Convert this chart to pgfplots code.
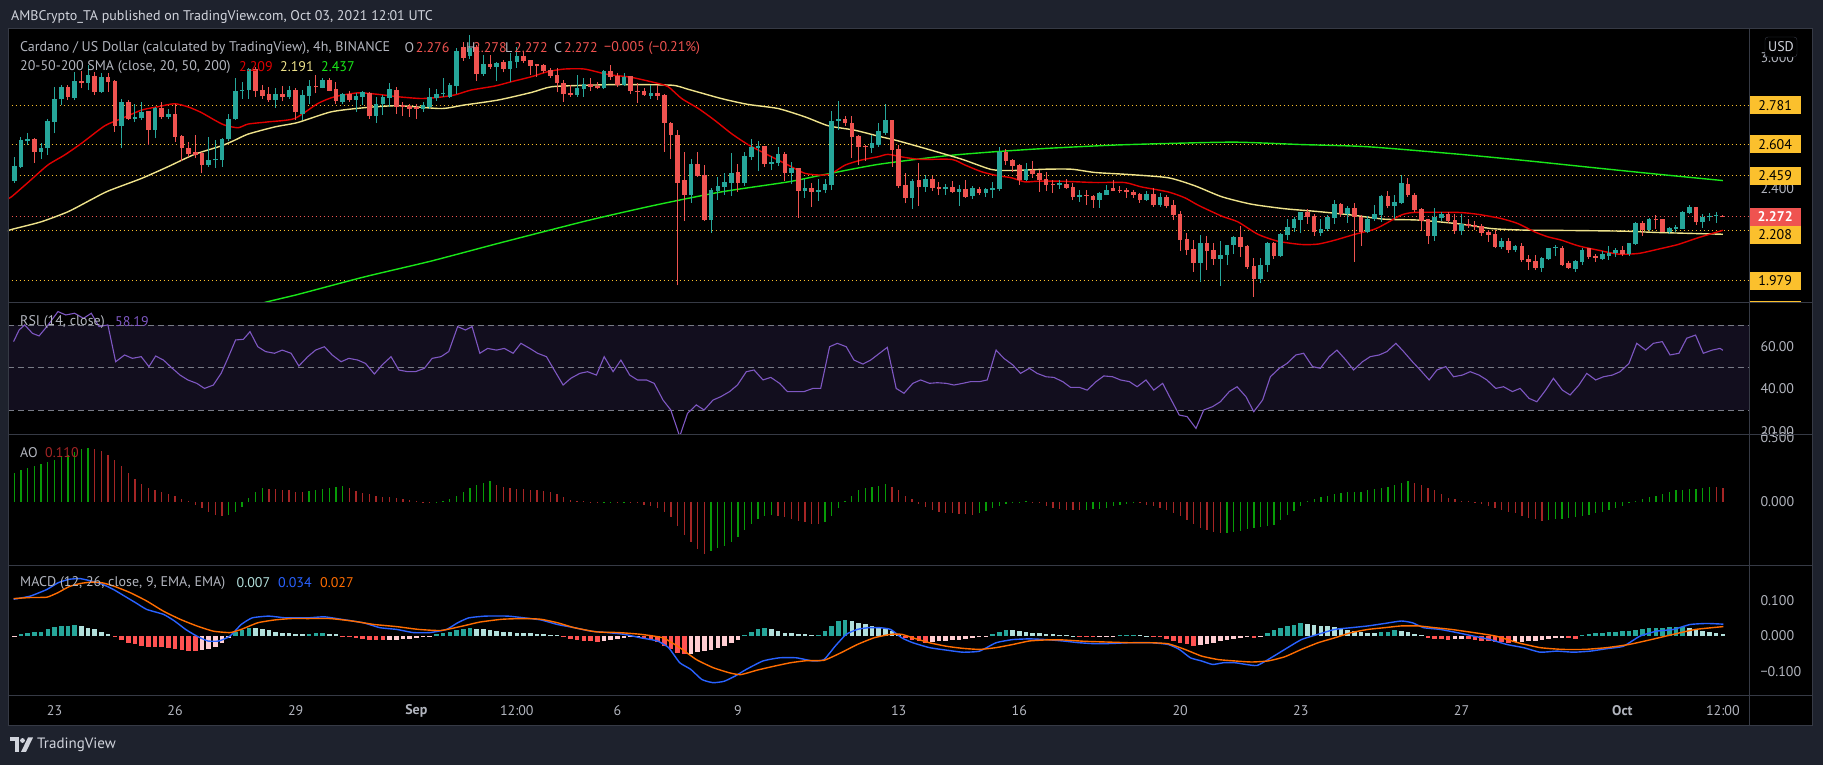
\documentclass[border=0pt]{standalone}
\usepackage{pgfplots}
\pgfplotsset{compat=1.18}
\usepackage{pgfplotstable}
\usepackage{fontspec}
\setmainfont{PT Sans}
\definecolor{bgout}{HTML}{1E222D}
\definecolor{sepc}{HTML}{363A45}
\definecolor{axtxt}{HTML}{B2B5BE}
\definecolor{hdtxt}{HTML}{D1D4DC}
\definecolor{tvteal}{HTML}{26A69A}
\definecolor{tvred}{HTML}{EF5350}
\definecolor{lvl}{HTML}{FBC02D}
\definecolor{smaA}{HTML}{E00000}
\definecolor{smaB}{HTML}{EEE28A}
\definecolor{smaC}{HTML}{19E619}
\definecolor{rsic}{HTML}{7E57C2}
\definecolor{rsiband}{HTML}{120E1E}
\definecolor{rsidash}{HTML}{787B86}
\definecolor{macdb}{HTML}{2962FF}
\definecolor{macdo}{HTML}{FF6D00}
\definecolor{hteal}{HTML}{26A69A}
\definecolor{hlt}{HTML}{B2DFDB}
\definecolor{hpink}{HTML}{FFCDD2}
\definecolor{hred}{HTML}{FF5252}
\definecolor{aoG}{HTML}{079B07}
\definecolor{aoR}{HTML}{A52525}
\newcommand\tvf{\fontsize{14}{16}\selectfont}

\pgfplotstableread{
i o h l c
-6 2.435 2.546 2.427 2.504
-5 2.501 2.637 2.493 2.622
-4 2.617 2.657 2.602 2.627
-2 2.568 2.607 2.536 2.584
-1 2.584 2.721 2.554 2.709
0 2.706 2.867 2.653 2.813
1 2.809 2.874 2.783 2.867
3 2.816 2.936 2.806 2.893
5 2.884 2.966 2.852 2.920
7 2.844 2.928 2.839 2.913
10 2.688 2.813 2.584 2.798
12 2.721 2.790 2.706 2.729
13 2.725 2.798 2.714 2.752
15 2.668 2.775 2.630 2.771
17 2.729 2.767 2.721 2.740
23 2.508 2.637 2.501 2.531
24 2.529 2.622 2.496 2.536
25 2.531 2.633 2.501 2.627
26 2.627 2.744 2.617 2.717
27 2.717 2.905 2.714 2.847
28 2.847 2.890 2.813 2.853
29 2.852 2.951 2.813 2.948
33 2.806 2.859 2.771 2.832
35 2.821 2.871 2.813 2.852
37 2.744 2.852 2.714 2.829
38 2.826 2.897 2.790 2.870
40 2.862 2.905 2.859 2.897
43 2.798 2.836 2.786 2.832
45 2.806 2.836 2.752 2.826
46 2.821 2.847 2.783 2.841
48 2.732 2.821 2.702 2.790
49 2.786 2.829 2.737 2.821
50 2.816 2.882 2.775 2.856
55 2.763 2.798 2.752 2.783
56 2.775 2.859 2.767 2.819
57 2.816 2.855 2.803 2.833
58 2.832 2.905 2.821 2.839
59 2.821 2.882 2.816 2.874
60 2.871 3.043 2.833 3.030
62 3.010 3.105 2.995 3.045
64 2.925 3.012 2.917 2.969
66 2.959 2.981 2.893 2.978
68 2.948 3.020 2.890 2.984
69 2.981 3.050 2.954 3.007
78 2.829 2.923 2.821 2.862
79 2.856 2.905 2.821 2.878
82 2.859 2.943 2.856 2.939
85 2.877 2.928 2.871 2.913
89 2.826 2.874 2.810 2.836
95 2.370 2.536 2.335 2.515
98 2.256 2.401 2.198 2.393
99 2.389 2.453 2.347 2.412
100 2.408 2.473 2.373 2.431
101 2.427 2.563 2.366 2.473
103 2.427 2.566 2.413 2.549
104 2.546 2.627 2.531 2.589
105 2.587 2.617 2.480 2.595
107 2.512 2.549 2.485 2.523
108 2.518 2.589 2.505 2.558
110 2.473 2.520 2.421 2.493
112 2.389 2.444 2.358 2.401
114 2.386 2.444 2.344 2.396
115 2.393 2.444 2.378 2.419
116 2.416 2.755 2.393 2.712
117 2.711 2.801 2.668 2.719
122 2.587 2.645 2.564 2.607
123 2.602 2.699 2.592 2.664
124 2.656 2.790 2.648 2.714
128 2.358 2.444 2.306 2.435
130 2.408 2.462 2.386 2.444
133 2.398 2.419 2.373 2.407
135 2.386 2.416 2.321 2.398
137 2.367 2.411 2.352 2.401
139 2.381 2.404 2.363 2.398
140 2.395 2.431 2.358 2.404
141 2.398 2.592 2.390 2.569
145 2.439 2.518 2.434 2.488
150 2.418 2.439 2.398 2.424
153 2.363 2.393 2.340 2.372
156 2.347 2.385 2.312 2.381
157 2.370 2.416 2.370 2.396
163 2.347 2.389 2.344 2.375
165 2.324 2.381 2.317 2.363
171 2.060 2.187 1.973 2.153
174 2.077 2.159 1.955 2.098
175 2.095 2.144 2.049 2.144
176 2.141 2.182 2.100 2.179
180 1.985 2.083 1.968 2.052
181 2.049 2.156 2.019 2.149
183 2.091 2.195 2.086 2.190
184 2.187 2.259 2.164 2.224
185 2.221 2.271 2.202 2.260
186 2.256 2.294 2.198 2.291
189 2.198 2.260 2.182 2.217
190 2.214 2.279 2.205 2.268
191 2.265 2.350 2.240 2.329
193 2.282 2.321 2.243 2.309
196 2.202 2.276 2.195 2.263
197 2.260 2.324 2.253 2.282
198 2.279 2.373 2.248 2.366
200 2.321 2.373 2.260 2.337
201 2.332 2.462 2.329 2.424
206 2.182 2.309 2.161 2.268
207 2.266 2.294 2.253 2.285
210 2.205 2.282 2.187 2.240
216 2.133 2.172 2.123 2.159
218 2.118 2.141 2.110 2.136
222 2.037 2.088 2.019 2.080
223 2.077 2.129 2.072 2.126
224 2.126 2.144 2.091 2.133
227 2.034 2.072 2.019 2.068
228 2.065 2.126 2.049 2.121
231 2.077 2.115 2.074 2.100
232 2.092 2.136 2.074 2.107
233 2.103 2.126 2.088 2.118
235 2.100 2.152 2.091 2.149
236 2.146 2.248 2.144 2.243
238 2.210 2.266 2.207 2.260
241 2.202 2.225 2.191 2.220
242 2.214 2.233 2.202 2.225
243 2.217 2.298 2.214 2.292
244 2.289 2.326 2.284 2.315
246 2.248 2.283 2.219 2.271
247 2.268 2.287 2.252 2.274
248 2.274 2.292 2.243 2.278
}\upc

\pgfplotstableread{
i o h l c
-3 2.627 2.630 2.519 2.568
2 2.867 2.877 2.806 2.821
4 2.893 2.939 2.859 2.882
6 2.916 2.936 2.828 2.844
8 2.913 2.928 2.844 2.890
9 2.893 2.897 2.660 2.688
11 2.798 2.806 2.714 2.721
14 2.755 2.755 2.602 2.668
16 2.771 2.798 2.721 2.728
18 2.740 2.790 2.614 2.637
19 2.640 2.645 2.526 2.584
20 2.584 2.614 2.546 2.561
21 2.568 2.645 2.539 2.554
22 2.564 2.568 2.470 2.508
30 2.948 2.959 2.821 2.847
31 2.852 2.877 2.810 2.826
32 2.832 2.867 2.798 2.806
34 2.835 2.871 2.801 2.821
36 2.852 2.859 2.714 2.749
39 2.870 2.920 2.836 2.864
41 2.897 2.905 2.847 2.848
42 2.856 2.887 2.786 2.803
44 2.833 2.847 2.798 2.806
47 2.839 2.844 2.721 2.732
51 2.852 2.867 2.744 2.775
52 2.783 2.798 2.734 2.775
53 2.780 2.786 2.729 2.767
54 2.775 2.786 2.719 2.764
61 3.050 3.070 2.985 3.000
63 3.050 3.058 2.893 2.925
65 2.969 3.012 2.948 2.959
67 2.981 2.989 2.933 2.948
70 3.007 3.027 2.978 2.984
71 2.989 2.989 2.920 2.963
72 2.969 2.969 2.913 2.963
73 2.966 2.969 2.928 2.939
74 2.943 2.954 2.905 2.917
75 2.920 2.951 2.841 2.882
76 2.882 2.897 2.798 2.832
77 2.836 2.877 2.821 2.829
80 2.878 2.905 2.847 2.867
81 2.871 2.890 2.855 2.859
83 2.939 2.966 2.897 2.913
84 2.917 2.928 2.867 2.874
86 2.916 2.917 2.833 2.849
87 2.849 2.882 2.793 2.844
88 2.847 2.859 2.826 2.829
90 2.836 2.877 2.806 2.824
91 2.829 2.832 2.568 2.702
92 2.703 2.706 2.536 2.645
93 2.645 2.668 1.957 2.427
94 2.439 2.568 2.251 2.370
96 2.515 2.566 2.454 2.459
97 2.462 2.508 2.251 2.256
102 2.474 2.511 2.386 2.427
106 2.595 2.595 2.501 2.512
109 2.561 2.566 2.435 2.473
111 2.493 2.496 2.266 2.390
113 2.401 2.428 2.317 2.386
118 2.717 2.732 2.688 2.699
119 2.699 2.732 2.541 2.637
120 2.640 2.645 2.508 2.592
121 2.596 2.602 2.526 2.589
125 2.714 2.714 2.501 2.577
126 2.581 2.599 2.401 2.413
127 2.416 2.470 2.332 2.358
129 2.439 2.519 2.321 2.408
131 2.444 2.459 2.390 2.404
132 2.407 2.431 2.370 2.398
134 2.407 2.434 2.378 2.386
136 2.398 2.439 2.358 2.363
138 2.398 2.408 2.373 2.381
142 2.569 2.581 2.508 2.528
143 2.531 2.535 2.474 2.505
144 2.508 2.515 2.416 2.439
146 2.485 2.526 2.451 2.467
147 2.473 2.485 2.386 2.439
148 2.442 2.474 2.389 2.416
149 2.422 2.439 2.381 2.416
151 2.422 2.444 2.398 2.404
152 2.407 2.424 2.347 2.363
154 2.372 2.393 2.327 2.367
155 2.367 2.373 2.312 2.347
158 2.404 2.439 2.388 2.389
159 2.395 2.411 2.381 2.389
160 2.393 2.404 2.358 2.386
161 2.386 2.393 2.355 2.373
162 2.375 2.378 2.335 2.347
164 2.375 2.404 2.317 2.324
166 2.363 2.370 2.309 2.320
167 2.324 2.347 2.256 2.279
168 2.286 2.297 2.114 2.164
169 2.169 2.199 2.095 2.118
170 2.123 2.164 2.019 2.060
172 2.153 2.182 2.027 2.114
173 2.118 2.152 2.049 2.077
177 2.179 2.230 2.087 2.133
178 2.136 2.144 2.031 2.042
179 2.046 2.083 1.904 1.985
182 2.149 2.156 2.077 2.091
187 2.291 2.306 2.240 2.271
188 2.273 2.282 2.182 2.202
192 2.329 2.332 2.271 2.282
194 2.309 2.332 2.065 2.271
195 2.271 2.279 2.138 2.202
199 2.366 2.389 2.309 2.321
202 2.419 2.447 2.363 2.370
203 2.373 2.381 2.291 2.301
204 2.306 2.309 2.207 2.253
205 2.260 2.263 2.146 2.182
208 2.286 2.294 2.243 2.251
209 2.256 2.282 2.192 2.205
211 2.240 2.263 2.220 2.228
212 2.233 2.251 2.210 2.222
213 2.228 2.240 2.182 2.198
214 2.202 2.210 2.156 2.187
215 2.191 2.210 2.126 2.133
217 2.159 2.176 2.106 2.118
219 2.136 2.149 2.065 2.072
220 2.077 2.098 2.027 2.065
221 2.068 2.095 2.027 2.037
225 2.130 2.138 2.046 2.052
226 2.057 2.069 2.031 2.037
229 2.126 2.130 2.077 2.087
230 2.091 2.100 2.065 2.083
234 2.118 2.135 2.091 2.100
237 2.243 2.251 2.182 2.210
239 2.260 2.279 2.217 2.257
240 2.260 2.263 2.201 2.202
245 2.315 2.318 2.233 2.246
249 2.276 2.278 2.272 2.272
}\dnc

% Awesome Oscillator, rising bars
\pgfplotstableread{
i v
-6 0.229
-5 0.25
-4 0.265
-3 0.28
-2 0.295
-1 0.31
0 0.33
1 0.35
2 0.37
3 0.39
4 0.41
5 0.42
26 -0.10
27 -0.075
28 -0.04
29 0.03
30 0.08
31 0.11
38 0.085
39 0.095
40 0.105
41 0.112
42 0.12
43 0.125
57 -0.005
58 0.01
59 0.025
60 0.05
61 0.08
62 0.11
63 0.13
64 0.15
65 0.16
82 -0.004
83 -0.003
85 -0.004
98 -0.385
99 -0.36
100 -0.34
101 -0.31
102 -0.27
103 -0.22
104 -0.17
105 -0.13
106 -0.11
107 -0.10
115 -0.16
116 -0.11
117 -0.05
118 0.01
119 0.05
120 0.09
121 0.11
122 0.12
123 0.128
124 0.14
138 -0.09
139 -0.07
140 -0.05
141 -0.03
142 -0.015
143 -0.008
144 -0.002
145 0.005
154 -0.062
155 -0.058
156 -0.055
157 -0.045
158 -0.035
159 -0.025
160 -0.015
161 -0.008
175 -0.24
176 -0.235
177 -0.225
178 -0.21
179 -0.205
180 -0.195
181 -0.19
182 -0.18
183 -0.14
184 -0.10
185 -0.07
186 -0.03
187 0.005
188 0.02
189 0.035
190 0.045
191 0.06
192 0.07
193 0.075
194 0.078
195 0.08
196 0.09
197 0.10
198 0.11
199 0.12
200 0.135
201 0.15
202 0.16
223 -0.14
224 -0.135
225 -0.13
226 -0.125
227 -0.115
228 -0.11
229 -0.10
230 -0.09
231 -0.08
232 -0.065
233 -0.045
234 -0.03
235 -0.01
236 0.005
237 0.02
238 0.035
239 0.05
240 0.065
241 0.08
242 0.09
243 0.095
244 0.10
245 0.105
246 0.11
247 0.12
}\aoup

% Awesome Oscillator, falling bars
\pgfplotstableread{
i v
6 0.415
7 0.40
8 0.37
9 0.33
10 0.28
11 0.23
12 0.18
13 0.14
14 0.11
15 0.09
16 0.075
17 0.06
18 0.047
19 0.026
20 0.006
21 -0.02
22 -0.05
23 -0.08
24 -0.10
25 -0.11
32 0.105
33 0.10
34 0.095
35 0.09
36 0.08
37 0.078
44 0.11
45 0.085
46 0.07
47 0.06
48 0.05
49 0.04
50 0.035
51 0.03
52 0.02
53 0.013
54 0.008
55 -0.002
56 -0.01
66 0.135
67 0.12
68 0.11
69 0.105
70 0.10
71 0.095
72 0.09
73 0.085
74 0.075
75 0.06
76 0.035
77 0.015
78 0.008
79 0.004
80 -0.004
81 -0.006
84 -0.005
86 -0.006
87 -0.01
88 -0.02
89 -0.03
90 -0.05
91 -0.08
92 -0.12
93 -0.19
94 -0.26
95 -0.31
96 -0.37
97 -0.41
108 -0.11
109 -0.12
110 -0.13
111 -0.15
112 -0.16
113 -0.17
114 -0.175
125 0.12
126 0.09
127 0.05
128 0.02
129 -0.015
130 -0.04
131 -0.06
132 -0.075
133 -0.085
134 -0.09
135 -0.095
136 -0.097
137 -0.098
146 0.003
147 -0.01
148 -0.03
149 -0.045
150 -0.055
151 -0.06
152 -0.063
153 -0.064
162 -0.01
163 -0.02
164 -0.03
165 -0.045
166 -0.065
167 -0.085
168 -0.11
169 -0.14
170 -0.17
171 -0.20
172 -0.22
173 -0.235
174 -0.245
203 0.15
204 0.13
205 0.11
206 0.09
207 0.06
208 0.03
209 0.02
210 0.01
211 0.005
212 -0.005
213 -0.015
214 -0.03
215 -0.045
216 -0.06
217 -0.075
218 -0.09
219 -0.11
220 -0.125
221 -0.135
222 -0.145
248 0.115
249 0.110
}\aodn

% MACD histogram: growing above zero
\pgfplotstableread{
i v
-5 0.005
-4 0.008
-3 0.011
-2 0.012
-1 0.019
0 0.026
1 0.029
2 0.030
3 0.031
27 0.011
28 0.018
29 0.023
38 0.007
39 0.008
40 0.0085
57 0.005
58 0.010
59 0.013
60 0.017
61 0.021
62 0.024
103 0.002
104 0.011
105 0.019
106 0.024
114 0.004
115 0.014
116 0.030
117 0.042
118 0.045
140 0.005
141 0.013
142 0.017
159 0.002
160 0.003
161 0.004
181 0.008
182 0.016
183 0.024
184 0.030
185 0.033
186 0.036
198 0.011
199 0.013
200 0.016
228 0.004
229 0.006
230 0.008
231 0.009
232 0.011
233 0.012
234 0.014
235 0.015
236 0.018
237 0.020
238 0.022
239 0.023
240 0.024
241 0.0245
242 0.025
243 0.026
}\hA

% MACD histogram: falling above zero
\pgfplotstableread{
i v
4 0.029
5 0.024
6 0.019
7 0.013
8 0.006
30 0.022
31 0.019
32 0.016
33 0.012
34 0.010
35 0.008
36 0.007
37 0.006
41 0.007
42 0.005
63 0.021
64 0.019
65 0.017
66 0.015
67 0.013
68 0.012
69 0.010
70 0.0095
71 0.008
72 0.006
73 0.005
74 0.004
75 0.002
107 0.021
108 0.015
109 0.010
110 0.008
111 0.006
112 0.005
113 0.002
119 0.042
120 0.038
121 0.034
122 0.030
123 0.026
124 0.021
125 0.014
126 0.007
143 0.016
144 0.014
145 0.012
146 0.010
147 0.008
148 0.007
149 0.005
150 0.003
151 0.002
152 0.001
162 0.003
163 0.001
187 0.034
188 0.032
189 0.030
190 0.028
191 0.025
192 0.022
193 0.018
194 0.014
195 0.011
196 0.010
197 0.009
201 0.014
202 0.011
203 0.007
204 0.002
244 0.022
245 0.017
246 0.014
247 0.012
248 0.010
249 0.007
}\hB

% MACD histogram: falling below zero
\pgfplotstableread{
i v
9 -0.003
10 -0.011
11 -0.019
12 -0.023
13 -0.027
14 -0.030
15 -0.031
16 -0.032
17 -0.033
18 -0.036
19 -0.039
20 -0.042
21 -0.043
43 -0.001
44 -0.004
45 -0.006
46 -0.008
47 -0.010
48 -0.011
49 -0.012
76 -0.004
77 -0.007
78 -0.010
79 -0.013
80 -0.015
81 -0.017
88 -0.005
89 -0.010
90 -0.017
91 -0.027
92 -0.038
93 -0.048
94 -0.052
127 -0.006
128 -0.010
129 -0.014
130 -0.019
153 -0.002
154 -0.003
155 -0.004
164 -0.001
165 -0.003
166 -0.007
167 -0.013
168 -0.019
169 -0.024
170 -0.027
179 -0.006
205 -0.005
206 -0.007
207 -0.009
208 -0.010
211 -0.009
212 -0.011
213 -0.013
214 -0.014
215 -0.016
216 -0.018
217 -0.019
226 -0.006
227 -0.007
}\hC

% MACD histogram: rising below zero
\pgfplotstableread{
i v
-6 -0.003
22 -0.041
23 -0.037
24 -0.031
25 -0.019
26 -0.006
50 -0.011
51 -0.010
52 -0.009
53 -0.007
54 -0.005
55 -0.003
56 -0.001
82 -0.014
83 -0.011
84 -0.009
85 -0.006
86 -0.004
87 -0.003
95 -0.050
96 -0.046
97 -0.043
98 -0.039
99 -0.033
100 -0.027
101 -0.019
102 -0.010
131 -0.017
132 -0.015
133 -0.013
134 -0.011
135 -0.010
136 -0.008
137 -0.006
138 -0.004
139 -0.002
156 -0.003
157 -0.002
158 -0.001
171 -0.025
172 -0.022
173 -0.019
174 -0.014
175 -0.010
176 -0.008
177 -0.005
178 -0.004
180 -0.002
209 -0.009
210 -0.008
218 -0.018
219 -0.016
220 -0.014
221 -0.013
222 -0.011
223 -0.008
224 -0.006
225 -0.005
}\hD

\pgfplotsset{
  tvpanel/.style={
    scale only axis, width=1741pt,
    xmin=-6.94, xmax=252.9,
    axis line style={draw=none},
    major tick length=0pt, tick style={draw=none},
    xtick=\empty, ytick=\empty,
    clip mode=individual,
  },
  wick/.style={draw=none, mark=none, forget plot,
    error bars/.cd, y dir=plus, y explicit, error mark=none,
    error bar style={draw=#1, line width=1pt}},
  body/.style={draw=none, mark=none, forget plot,
    error bars/.cd, y dir=plus, y explicit, error mark=none,
    error bar style={draw=#1, line width=4.6pt}},
  hbar/.style n args={2}{draw=none, mark=none, forget plot,
    error bars/.cd, y dir=both, y explicit, error mark=none,
    error bar style={draw=#1, line width=#2}},
  lvline/.style={#1, line width=1.2pt, dash pattern=on 1.3pt off 2.7pt, forget plot},
}
\tikzset{
  lvlab/.style={fill=#1, minimum width=52pt, minimum height=18pt, inner sep=0pt, font=\fontsize{14}{16}\selectfont},
  tlab/.style={anchor=west, inner sep=0pt, text=axtxt, font=\tvf},
}

\begin{document}
\begin{tikzpicture}[x=1pt,y=1pt]
\fill[bgout] (0,0) rectangle (1823,765);
\fill[black] (8,39) rectangle (1812,736);

% ---------------- price panel ----------------
\begin{axis}[tvpanel, at={(8pt,462pt)}, anchor=south west, height=273pt,
  ymin=1.876, ymax=3.127]
\addplot[lvline=lvl] coordinates {(-7,2.781) (253,2.781)};
\addplot[lvline=lvl] coordinates {(-7,2.604) (253,2.604)};
\addplot[lvline=lvl] coordinates {(-7,2.459) (253,2.459)};
\addplot[lvline=lvl] coordinates {(-7,2.208) (253,2.208)};
\addplot[lvline=lvl] coordinates {(-7,1.979) (253,1.979)};
\addplot[lvline=tvred] coordinates {(-7,2.272) (253,2.272)};
% SMA 200
\addplot[smaC, line width=1.4pt, smooth, tension=0.4, forget plot] coordinates {
(28,1.830) (30.9,1.874) (36.3,1.915) (46.3,1.996) (56.2,2.068) (66.2,2.149) (79.6,2.254)
(89.6,2.324) (99.5,2.385) (109.5,2.431) (114.5,2.462) (122.9,2.511) (132.9,2.550)
(140.3,2.569) (147.8,2.584) (157.7,2.599) (166.2,2.607) (176.2,2.613) (186.1,2.602)
(196,2.592) (209.5,2.558) (219.4,2.529) (229.4,2.497) (239.3,2.466) (249,2.437)};
% SMA 50
\addplot[smaB, line width=1.4pt, smooth, tension=0.4, forget plot] coordinates {
(-7,2.205) (-6.4,2.213) (-2,2.248) (2,2.294) (5.5,2.350) (8,2.389) (13,2.447) (16.9,2.500)
(20.9,2.557) (24.9,2.596) (26.9,2.622) (28.9,2.650) (32.9,2.683) (36.3,2.703) (41.3,2.752)
(46.3,2.771) (51.3,2.780) (57.7,2.767) (61.1,2.783) (66.2,2.806) (71.2,2.841) (74.2,2.867)
(79.6,2.874) (84.6,2.877) (92.1,2.874) (94.6,2.855) (99.5,2.813) (103.5,2.786) (108,2.767)
(112,2.729) (115.5,2.688) (119.4,2.668) (122.9,2.641) (125.9,2.619) (130.4,2.580)
(135.4,2.535) (139.8,2.488) (142.8,2.483) (147.8,2.489) (151.8,2.489) (155.3,2.474)
(160.2,2.465) (166.2,2.450) (170.2,2.413) (174.2,2.363) (178.6,2.329) (183.6,2.308)
(188.6,2.295) (193.6,2.279) (198.5,2.260) (203.5,2.256) (209.5,2.239) (214.5,2.217)
(219.4,2.210) (226.9,2.208) (234.4,2.205) (239.3,2.199) (249,2.191)};
% SMA 20
\addplot[smaA, line width=1.4pt, smooth, tension=0.4, forget plot] coordinates {
(-7,2.353) (-6.4,2.363) (-4,2.427) (-1,2.508) (1.5,2.554) (4,2.607) (7.5,2.688) (10,2.721)
(13,2.760) (15.4,2.775) (17.9,2.789) (19.9,2.775) (21.9,2.749) (23.9,2.714) (25.4,2.691)
(27.4,2.679) (28.9,2.696) (31.9,2.706) (35.8,2.721) (39.3,2.790) (41.8,2.821) (45.3,2.839)
(48.3,2.832) (51.3,2.821) (54.7,2.813) (57.2,2.818) (59.7,2.829) (62.2,2.852) (65.7,2.870)
(68.2,2.890) (71.2,2.913) (73.6,2.936) (76.1,2.948) (79.1,2.948) (82.6,2.923) (86.1,2.910)
(90.1,2.882) (91.6,2.867) (93.6,2.813) (96.1,2.767) (98.5,2.714) (101,2.653) (103.5,2.602)
(106.5,2.554) (109.5,2.508) (112,2.470) (114.5,2.462) (116,2.470) (118,2.508) (120.4,2.531)
(122.9,2.546) (124.4,2.557) (126.9,2.543) (129.4,2.534) (133.9,2.534) (135.9,2.508)
(138.4,2.477) (140.8,2.459) (142.8,2.450) (144.8,2.431) (146.8,2.434) (150.3,2.434)
(155.3,2.428) (159.7,2.428) (162.2,2.408) (166.2,2.385) (168.7,2.358) (170.7,2.324)
(174.2,2.274) (176.6,2.248) (179.6,2.191) (182.6,2.159) (186.1,2.144) (188.6,2.146)
(191.1,2.164) (194.1,2.191) (197,2.214) (199,2.245) (201,2.279) (203,2.291) (209.5,2.291)
(212.5,2.282) (215.9,2.263) (218.4,2.240) (220.9,2.202) (222.9,2.179) (224.9,2.164)
(227.4,2.138) (230.4,2.118) (233.4,2.100) (236.4,2.103) (239.4,2.123) (242.3,2.144)
(245.3,2.175) (249,2.209)};
% candles
\addplot[wick=tvteal] table[x=i, y=l, y error plus expr=\thisrow{h}-\thisrow{l}] {\upc};
\addplot[body=tvteal] table[x=i, y=o, y error plus expr=\thisrow{c}-\thisrow{o}] {\upc};
\addplot[wick=tvred] table[x=i, y=l, y error plus expr=\thisrow{h}-\thisrow{l}] {\dnc};
\addplot[body=tvred] table[x=i, y=c, y error plus expr=\thisrow{o}-\thisrow{c}] {\dnc};
% price scale
\node[tlab] at (axis cs:254.6,3.0) {3.000};
\node[tlab] at (axis cs:254.6,2.4) {2.400};
% level labels
\node[lvlab=lvl] at (axis cs:256.8,2.781) {2.781};
\node[lvlab=lvl] at (axis cs:256.8,2.604) {2.604};
\node[lvlab=lvl] at (axis cs:256.8,2.459) {2.459};
\node[lvlab=lvl] at (axis cs:256.8,2.188) {2.208};
\node[lvlab=lvl] at (axis cs:256.8,1.979) {1.979};
\node[lvlab=tvred, text=white, font=\bfseries\fontsize{14}{16}\selectfont] at (axis cs:256.8,2.272) {2.272};
\end{axis}
\fill[lvl] (1749,462) rectangle (1801,463.5);

% ---------------- RSI ----------------
\begin{axis}[tvpanel, at={(8pt,330pt)}, anchor=south west, height=132pt,
  ymin=18.2, ymax=80.55]
\fill[rsiband] (axis cs:-6.94,30) rectangle (axis cs:252.9,70);
\addplot[rsidash, line width=1pt, dash pattern=on 6pt off 4pt, forget plot] coordinates {(-7,70) (253,70)};
\addplot[rsidash, line width=1pt, dash pattern=on 6pt off 4pt, forget plot] coordinates {(-7,50) (253,50)};
\addplot[rsidash, line width=1pt, dash pattern=on 6pt off 4pt, forget plot] coordinates {(-7,30) (253,30)};
\addplot[rsic, line width=1.1pt, forget plot] coordinates {
(-6.11,62.3) (-5.28,67.8) (-4.45,70.2) (-3.29,66.2) (-2.30,65.0) (-1.14,69.4) (0.52,76.5)
(1.68,74.9) (3.0,75.7) (4.33,73.3) (5.49,75.7) (6.65,69.4) (7.97,70.2) (9.13,52.8) (10.46,56.0)
(11.62,54.4) (12.94,55.2) (14.1,50.5) (15.1,55.5) (16.26,53.6) (17.58,49.7) (18.74,46.5)
(19.9,44.2) (21.23,42.6) (22.39,40.2) (23.71,41.8) (24.87,47.3) (25.87,54.4) (27.03,63.1)
(28.19,63.4) (29.18,67.0) (30.34,59.9) (31.5,57.6) (32.83,56.8) (33.99,58.3) (35.31,56.8)
(36.47,50.8) (37.8,55.2) (38.96,58.3) (40.28,59.9) (41.44,56.0) (42.77,52.8) (43.93,54.4)
(45.26,53.6) (46.42,52.0) (47.74,47.0) (48.9,51.3) (50.23,55.2) (51.39,48.9) (52.71,48.1)
(53.87,48.1) (55.2,49.7) (56.36,54.4) (57.68,55.2) (58.84,57.6) (60.17,69.4) (61.33,67.8)
(62.32,69.4) (63.48,56.8) (64.64,59.1) (65.97,58.3) (67.13,59.1) (68.45,56.8) (69.61,61.5)
(70.94,59.1) (72.1,56.8) (73.42,55.2) (74.58,48.9) (75.91,41.8) (77.07,45.0) (78.39,47.3)
(79.56,48.1) (80.88,46.5) (82.04,55.2) (83.37,48.1) (84.53,53.6) (85.85,46.5) (87.01,44.2)
(88.34,44.2) (89.5,42.6) (90.82,34.7) (91.98,30.0) (93.31,17.5) (94.47,28.4) (95.79,32.4)
(96.95,30.0) (98.28,34.7) (99.44,36.3) (100.76,38.7) (101.92,41.8) (103.25,48.1) (104.41,48.9)
(105.74,44.2) (106.9,45.4) (108.22,42.6) (109.38,38.7) (110.71,38.7) (111.87,38.7)
(113.19,40.2) (114.35,40.2) (115.68,59.9) (116.84,61.5) (118.16,59.9) (119.32,53.6)
(120.65,51.7) (121.81,53.6) (123.13,56.8) (124.29,59.6) (125.62,40.2) (126.78,37.9)
(128.1,42.6) (129.27,44.2) (130.59,42.6) (131.75,42.9) (133.08,42.6) (134.24,41.8)
(135.56,42.6) (136.72,43.4) (138.05,43.4) (139.21,44.2) (140.53,58.3) (141.69,54.4)
(143.02,51.3) (144.18,47.3) (145.5,49.7) (146.66,47.3) (147.99,45.7) (149.15,45.4)
(150.48,43.4) (151.64,40.7) (152.96,40.7) (154.12,39.4) (155.45,43.4) (156.61,46.1)
(157.93,45.7) (159.09,44.2) (160.42,43.4) (161.58,41.0) (162.9,44.2) (164.06,39.4)
(165.39,42.6) (166.55,35.5) (167.87,27.6) (169.03,26.9) (170.36,21.3) (171.52,30.0)
(172.84,31.6) (174.0,33.9) (175.33,38.7) (176.49,41.0) (177.82,36.3) (178.98,29.2)
(180.3,34.7) (181.46,45.7) (182.79,49.7) (183.95,52.0) (185.27,56.0) (186.43,56.8)
(187.76,50.5) (188.92,49.7) (190.24,55.2) (191.4,58.3) (192.73,53.6) (193.89,48.9)
(195.21,52.8) (196.37,55.2) (197.7,56.0) (198.86,57.6) (200.19,61.5) (201.35,57.6)
(202.67,52.8) (203.83,48.9) (205.16,44.2) (206.32,48.9) (207.64,50.5) (208.8,45.7)
(210.13,46.5) (211.29,48.1) (212.61,46.5) (213.77,44.2) (215.1,40.2) (216.26,41.0)
(217.58,38.7) (218.74,40.2) (220.07,35.5) (221.23,33.9) (222.55,39.4) (223.71,45.0)
(225.04,39.4) (226.2,37.1) (227.52,41.8) (228.68,47.3) (230.01,44.2) (231.17,45.7)
(232.5,46.5) (233.66,48.1) (234.98,52.0) (236.14,61.5) (237.47,58.3) (238.63,61.5)
(239.95,62.3) (241.11,56.0) (242.44,56.8) (243.6,63.9) (244.92,65.4) (246.08,56.8)
(247.41,58.3) (248.57,59.1) (249,58.19)};
\node[tlab] at (axis cs:254.6,60) {60.00};
\node[tlab] at (axis cs:254.6,40) {40.00};
\node[tlab] at (axis cs:254.6,20) {20.00};
\end{axis}

% ---------------- AO ----------------
\begin{axis}[tvpanel, at={(8pt,199pt)}, anchor=south west, height=131pt,
  ymin=-0.5, ymax=0.523]
\addplot[hbar={aoG}{1.3pt}] table[x=i, y expr=0, y error plus expr={max(\thisrow{v},0)}, y error minus expr={max(-\thisrow{v},0)}] {\aoup};
\addplot[hbar={aoR}{1.3pt}] table[x=i, y expr=0, y error plus expr={max(\thisrow{v},0)}, y error minus expr={max(-\thisrow{v},0)}] {\aodn};
\node[tlab] at (axis cs:254.6,0.5) {0.500};
\node[tlab] at (axis cs:254.6,0) {0.000};
\end{axis}

% ---------------- MACD ----------------
\begin{axis}[tvpanel, at={(8pt,69pt)}, anchor=south west, height=130pt,
  ymin=-0.171, ymax=0.2,
  xtick={0,18,36,54,69,84,102,126,144,168,186,210,234,249},
  xticklabels={23,26,29,\textbf{Sep},12:00,6,9,13,16,20,23,27,\textbf{Oct},12:00},
  xticklabel style={font=\tvf, text=axtxt, anchor=center, yshift=-15pt}]
\addplot[hbar={hteal}{4.6pt}] table[x=i, y expr=0, y error plus expr={max(\thisrow{v},0)}, y error minus expr={max(-\thisrow{v},0)}] {\hA};
\addplot[hbar={hlt}{4.6pt}] table[x=i, y expr=0, y error plus expr={max(\thisrow{v},0)}, y error minus expr={max(-\thisrow{v},0)}] {\hB};
\addplot[hbar={hred}{4.6pt}] table[x=i, y expr=0, y error plus expr={max(\thisrow{v},0)}, y error minus expr={max(-\thisrow{v},0)}] {\hC};
\addplot[hbar={hpink}{4.6pt}] table[x=i, y expr=0, y error plus expr={max(\thisrow{v},0)}, y error minus expr={max(-\thisrow{v},0)}] {\hD};
\addplot[macdb, line width=1.4pt, smooth, tension=0.3, forget plot] coordinates {
(-6.11,0.105) (-3.63,0.114) (-1.14,0.133) (0.52,0.152) (2.17,0.162) (3.83,0.164) (5.49,0.157)
(7.14,0.148) (8.8,0.133) (10.46,0.114) (12.12,0.095) (13.77,0.076) (16.26,0.062) (17.92,0.043)
(19.57,0.019) (21.23,0.0) (22.89,-0.014) (24.54,-0.014) (26.2,0.0) (27.86,0.033) (29.51,0.052)
(32.0,0.057) (34.49,0.052) (37.8,0.052) (40.28,0.055) (42.77,0.048) (46.08,0.038) (48.57,0.024)
(51.06,0.019) (53.54,0.010) (56.03,0.010) (58.51,0.019) (60.17,0.038) (61.83,0.052) (64.31,0.057)
(67.63,0.057) (70.11,0.052) (72.6,0.046) (75.08,0.033) (77.57,0.024) (80.05,0.014) (82.54,0.010)
(85.02,0.005) (87.51,-0.005) (89.99,-0.014) (91.65,-0.033) (93.31,-0.076) (94.96,-0.095)
(96.62,-0.124) (98.28,-0.133) (99.94,-0.129) (101.59,-0.114) (103.25,-0.095) (105.74,-0.071)
(108.22,-0.062) (110.71,-0.062) (113.19,-0.071) (114.85,-0.067) (116.5,-0.029) (118.16,0.005)
(119.82,0.019) (121.48,0.024) (123.13,0.024) (124.79,0.019) (126.45,-0.005) (128.1,-0.019)
(130.59,-0.033) (133.08,-0.040) (135.56,-0.046) (138.05,-0.043) (140.53,-0.019) (143.02,-0.010)
(145.5,-0.008) (147.99,-0.010) (150.48,-0.014) (152.96,-0.019) (155.45,-0.022) (157.93,-0.021)
(160.42,-0.019) (163.73,-0.019) (166.22,-0.024) (167.87,-0.038) (169.53,-0.062) (171.19,-0.071)
(172.84,-0.081) (174.5,-0.076) (176.16,-0.076) (177.82,-0.081) (179.47,-0.084) (181.13,-0.067)
(183.62,-0.038) (186.1,-0.010) (188.59,0.005) (191.07,0.019) (193.56,0.024) (196.04,0.029)
(198.53,0.036) (201.01,0.043) (202.67,0.038) (204.33,0.024) (206.81,0.019) (209.3,0.010)
(211.78,0.0) (214.27,-0.010) (216.76,-0.024) (219.24,-0.033) (221.73,-0.046) (224.21,-0.043)
(226.7,-0.046) (229.18,-0.043) (231.67,-0.036) (234.15,-0.029) (236.64,0.0) (239.12,0.014)
(241.61,0.019) (244.1,0.033) (246.58,0.036) (249.07,0.034)};
\addplot[macdo, line width=1.4pt, smooth, tension=0.3, forget plot] coordinates {
(-6.11,0.107) (-3.63,0.110) (-1.14,0.111) (0.52,0.124) (2.17,0.141) (3.83,0.150) (5.49,0.154)
(7.14,0.152) (8.8,0.143) (11.29,0.124) (13.77,0.100) (16.26,0.071) (18.74,0.048) (21.23,0.029)
(23.71,0.014) (26.2,0.010) (27.86,0.019) (30.34,0.038) (32.83,0.046) (35.31,0.050) (37.8,0.050)
(41.11,0.050) (44.43,0.043) (47.74,0.033) (51.06,0.027) (54.37,0.019) (57.68,0.016) (61.0,0.029)
(63.48,0.040) (66.8,0.048) (70.11,0.050) (72.6,0.048) (75.08,0.038) (77.57,0.024) (80.88,0.012)
(84.2,0.010) (87.51,0.005) (90.82,-0.005) (93.31,-0.033) (95.79,-0.067) (98.28,-0.090)
(100.76,-0.105) (102.42,-0.110) (104.91,-0.097) (107.39,-0.086) (109.88,-0.076) (112.36,-0.070)
(114.85,-0.069) (117.33,-0.048) (119.82,-0.024) (122.31,-0.005) (124.79,0.005) (126.45,0.005)
(128.1,-0.005) (130.59,-0.019) (133.08,-0.029) (135.56,-0.035) (138.05,-0.038) (140.53,-0.033)
(143.02,-0.024) (145.5,-0.014) (147.99,-0.011) (150.48,-0.011) (153.79,-0.015) (157.1,-0.017)
(160.42,-0.019) (163.73,-0.019) (166.22,-0.022) (168.7,-0.038) (171.19,-0.057) (173.67,-0.067)
(176.16,-0.071) (178.64,-0.074) (181.13,-0.071) (183.62,-0.059) (186.1,-0.038) (188.59,-0.019)
(191.07,-0.005) (193.56,0.010) (196.04,0.019) (198.53,0.024) (201.01,0.029) (203.5,0.029)
(205.98,0.024) (208.47,0.019) (211.78,0.010) (215.1,0.0) (218.41,-0.019) (221.73,-0.033)
(225.04,-0.038) (228.35,-0.038) (231.67,-0.033) (234.98,-0.024) (238.3,-0.010) (241.61,0.005)
(244.92,0.019) (249.07,0.027)};
\node[tlab] at (axis cs:254.6,0.1) {0.100};
\node[tlab] at (axis cs:254.6,0) {0.000};
\node[tlab] at (axis cs:254.6,-0.1) {−0.100};
\end{axis}

% separators
\draw[sepc, line width=1pt] (8,462) -- (1812,462);
\draw[sepc, line width=1pt] (8,330) -- (1812,330);
\draw[sepc, line width=1pt] (8,199) -- (1812,199);
\draw[sepc, line width=1pt] (8,69) -- (1812,69);
\draw[sepc, line width=1pt] (1749,39) -- (1749,736);
\draw[sepc, line width=1pt] (8,39) rectangle (1812,736);

% USD button
\node[draw=sepc, fill=black, rounded corners=3pt, minimum width=32pt, minimum height=20pt, inner sep=0pt, text=hdtxt, font=\tvf] at (1781,718) {USD};

% legends
\begin{scope}[every node/.style={anchor=west, inner sep=0pt, font=\tvf}]
\node[text=axtxt] at (20,717.3) {Cardano / US Dollar (calculated by TradingView), 4h, BINANCE};
\node[text=axtxt] at (404.5,717.3) {O}; \node[text=tvred] at (415.7,717.3) {2.276};
\node[text=axtxt] at (466,717.3) {H}; \node[text=tvred] at (473,717.3) {2.278};
\node[text=axtxt] at (505,717.3) {L}; \node[text=tvred] at (514,717.3) {2.272};
\node[text=axtxt] at (554,717.3) {C}; \node[text=tvred] at (564,717.3) {2.272};
\node[text=tvred] at (604,717.3) {−0.005 (−0.21\%)};
\node[text=axtxt] at (20,698.3) {20-50-200 SMA (close, 20, 50, 200)};
\node[text=smaA] at (239,698.3) {2.209};
\node[text=smaB] at (280,698.3) {2.191};
\node[text=smaC] at (321,698.3) {2.437};
\node[text=axtxt] at (20,443.3) {RSI (14, close)};
\node[text=rsic] at (115,443.3) {58.19};
\node[text=axtxt] at (20,312) {AO};
\node[text=aoR] at (45,312) {0.110};
\node[text=axtxt] at (20,182) {MACD (12, 26, close, 9, EMA, EMA)};
\node[text=hlt] at (236.5,182) {0.007};
\node[text=macdb] at (278,182) {0.034};
\node[text=macdo] at (320,182) {0.027};
\node[text=hdtxt, font=\fontsize{14}{16}\selectfont] at (11,747.7) {AMBCrypto\_TA published on TradingView.com, Oct 03, 2021 12:01 UTC};
\node[text=hdtxt, font=\fontsize{15}{17}\selectfont] at (37,20) {TradingView};
\end{scope}
% logo
\fill[hdtxt] (10,24) rectangle (19,27.5);
\fill[hdtxt] (14.5,13) rectangle (19,27.5);
\fill[hdtxt] (22.5,24.5) circle (2.4);
\fill[hdtxt] (21,13) -- (26,13) -- (33,27.5) -- (28,27.5) -- cycle;

\pgfresetboundingbox
\useasboundingbox (0,0) rectangle (1823,765);
\end{tikzpicture}
\end{document}
